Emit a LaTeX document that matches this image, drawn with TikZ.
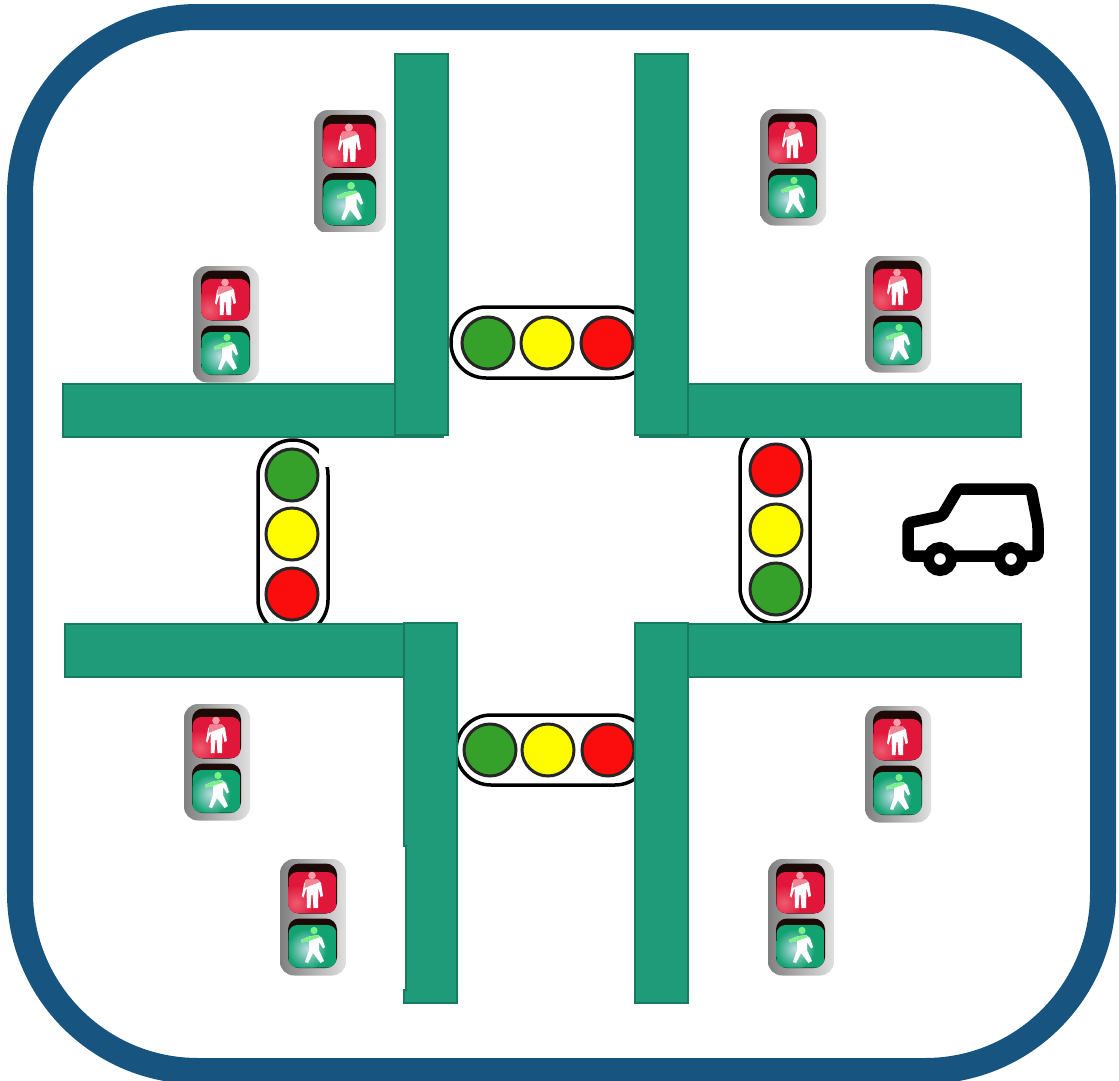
\documentclass[tikz,border=0pt]{standalone}
\usetikzlibrary{calc}
\definecolor{framecol}{HTML}{17547F}
\definecolor{roadfill}{HTML}{1F9B79}
\definecolor{roadedge}{HTML}{187A5E}
\definecolor{lampgreen}{HTML}{35A02A}
\definecolor{lampyellow}{HTML}{FFFB00}
\definecolor{lampred}{HTML}{FB0D0D}
\definecolor{pedred}{HTML}{E0163A}
\definecolor{pedredglow}{HTML}{EE5C70}
\definecolor{pedgreen}{HTML}{12A272}
\definecolor{pedgreenglow}{HTML}{BFDDE4}
\definecolor{pedblack}{HTML}{1C0A08}
\tikzset{
  road/.style={fill=roadfill,draw=roadedge,line width=2bp},
  capsule/.style={draw=black,line width=3.5bp,fill=white},
  lamp/.style={circle,draw=black!85,line width=3bp,minimum size=52bp,inner sep=0pt},
  figure/.style={fill=white,draw=none},
  ped/.pic={
    \shade[left color=black!50,middle color=black!36,right color=black!12,rounded corners=14bp] (0,0) rectangle (66,116.5);
    \fill[pedblack,rounded corners=11bp] (8,4.5) rectangle (57,54.5);
    \fill[pedblack,rounded corners=11bp] (8,59.5) rectangle (57,109);
    \begin{scope}
      \clip[rounded corners=9bp] (8.5,13) rectangle (56.5,54);
      \fill[pedred] (8,12) rectangle (57,55);
      \shade[inner color=pedredglow,outer color=pedred] (16,44) circle (18);
    \end{scope}
    \begin{scope}
      \clip[rounded corners=9bp] (8.5,66) rectangle (56.5,108.5);
      \fill[pedgreen] (8,65) rectangle (57,109);
      \shade[inner color=pedgreenglow,outer color=pedgreen] (27,90) circle (20);
    \end{scope}
    % standing figure
    \fill[pedredglow!60!white] (32,16.5) circle (3.8);
    \fill[figure] (26,20.5) -- (38,20.5) -- (41,24) -- (43,37) -- (40.5,38) -- (38.5,29) -- (38,49) -- (33.5,49) -- (32.5,36) -- (31.5,36) -- (30.5,49) -- (27,49) -- (26.5,29) -- (23.5,38.5) -- (22,37) -- (24,25) -- cycle;
    \fill[pedredglow!75!white] (26,20.5) -- (38,20.5) -- (40,23) -- (24.5,29) -- (25,23) -- cycle;
    % walking figure
    \fill[green!45!white!85!pedgreen] (34,71.5) circle (3.6);
    \fill[figure] (21,81) -- (29,77.5) -- (38,76) -- (42,79) -- (45,88) -- (43,89.5) -- (39,83) -- (39,91) -- (44,102) -- (40.5,104) -- (33,94) -- (28,104) -- (25,103) -- (29,91) -- (29,82) -- (22,83.5) -- cycle;
    \fill[green!45!white!85!pedgreen] (21,81) -- (29,77.5) -- (38,76) -- (40,78) -- (29,82) -- (22,83.5) -- cycle;
  }
}
\begin{document}
\begin{tikzpicture}[x=1bp,y=-1bp]
\useasboundingbox (0,0) rectangle (1119,1081);
\fill[white] (0,0) rectangle (1119,1081);
\draw[framecol,line width=26bp,rounded corners=178bp] (20,17) rectangle (1103,1071);

% traffic lights
\draw[capsule,rounded corners=35bp] (451,307) rectangle (650,378);
\node[lamp,fill=lampgreen] (tg) at (488,343) {};
\node[lamp,fill=lampyellow] (ty) at (547,343) {};
\node[lamp,fill=lampred] (tr) at (607,343) {};

\draw[capsule,rounded corners=35bp] (456,715) rectangle (650,785);
\node[lamp,fill=lampgreen] (bg) at (490,750) {};
\node[lamp,fill=lampyellow] (by) at (548,750) {};
\node[lamp,fill=lampred] (br) at (608,750) {};

\draw[capsule,rounded corners=35bp] (258,440) rectangle (328,635);
\fill[white] (319,434) rectangle (333,466.5);
\node[lamp,fill=lampgreen] (lg) at (292,475) {};
\node[lamp,fill=lampyellow] (ly) at (292,534) {};
\node[lamp,fill=lampred] (lr) at (292,594) {};

\draw[capsule,rounded corners=35bp] (740,425) rectangle (810,623);
\node[lamp,fill=lampred] (rr) at (776,470) {};
\node[lamp,fill=lampyellow] (ry) at (776,530) {};
\node[lamp,fill=lampgreen] (rg) at (776,589) {};

% roads
\draw[road] (63,384) rectangle (443,437);
\draw[road] (395,54) rectangle (448,435);
\draw[road] (640,384) rectangle (1021,437);
\draw[road] (635,54) rectangle (688,435);
\draw[road] (65,624) rectangle (420,677);
\draw[road] (404,623) -- (457,623) -- (457,1003) -- (404,1003) -- (404,990) -- (406,990) -- (406,846) -- (404,846) -- cycle;
\draw[road] (680,624) rectangle (1021,677);
\draw[road] (635,623) rectangle (688,1003);

% pedestrian signals
\pic[transform shape,xscale=1.09,yscale=1.06] at (314,110) {ped};
\fill[white] (319,231.5) rectangle (386,240);
\pic at (760,109) {ped};
\pic at (865,256) {ped};
\pic at (193,266) {ped};
\pic at (184,704) {ped};
\pic at (865,706) {ped};
\pic at (280,859) {ped};
\pic at (768,859) {ped};

% car
\draw[black,line width=11.5bp,line join=round,line cap=round,rounded corners=3bp]
  (908,556) -- (908,523) -- (942,516) -- (958,489) -- (1031,489) -- (1038,525) -- (1038,556) -- cycle;
\draw[black,fill=white,line width=11bp] (940,559) circle (11.5);
\draw[black,fill=white,line width=11bp] (1011,559) circle (11.5);
\end{tikzpicture}
\end{document}
